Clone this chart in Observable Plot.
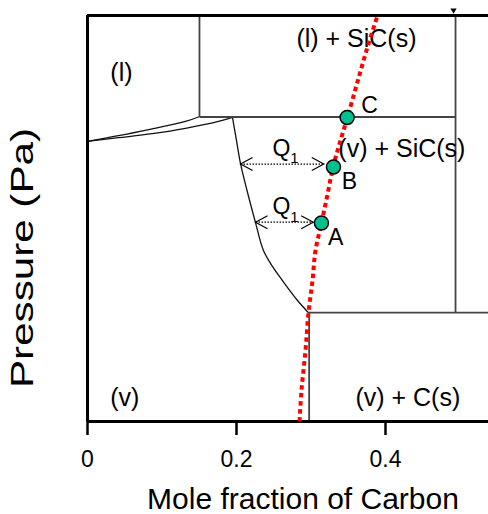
<!DOCTYPE html>
<html><head><meta charset="utf-8">
<script src="https://cdn.jsdelivr.net/npm/d3@7"></script>
<script src="https://cdn.jsdelivr.net/npm/@observablehq/plot@0.6"></script>
<style>html,body{margin:0;padding:0;background:#fff}</style>
</head><body><div id="chart"></div>
<script>
// x: mole fraction of carbon; y: relative pressure (arbitrary units, 0 = bottom, 100 = top)
const xTicks = [0, 0.2, 0.4];
const boundaryLiquidUpper = [[0,69.0],[0.0416,70.4],[0.0868,72.1],[0.1315,73.9],[0.149,75.0]];
const boundaryLiquidLower = [[0,69.0],[0.0416,69.9],[0.0868,70.9],[0.1315,72.2],[0.1758,73.9],[0.1946,74.9]];
const boundaryVapor = [[0.1946,74.9],[0.2,69.2],[0.2054,63.5],[0.2148,56.4],[0.2255,49.0],[0.2362,42.1],[0.2483,38.2],[0.2617,34.7],[0.2819,29.8],[0.2966,26.8]];
const boundaryStraight = [
  [0.1503,75.0,0.1503,100],
  [0.1503,75.0,0.494,75.0],
  [0.494,26.8,0.494,100],
  [0.2966,26.8,0.54,26.8],
  [0.2975,0,0.2975,26.8]
];
const processPath = [[0.2846,0],[0.2872,7.6],[0.2926,17.5],[0.2966,26.8],[0.302,34.7],[0.306,42.1],[0.3141,48.9],[0.3221,55.9],[0.3302,63.1],[0.3396,69.2],[0.349,75.0],[0.3611,82.8],[0.3745,91.4],[0.3893,100]];
const pointNames = ["A","B","C"];
const pointX = [0.314, 0.3302, 0.3485];
const pointY = [48.9, 62.7, 74.9];
const pointLabelX = [0.333, 0.3517, 0.3785];
const pointLabelY = [45.4, 59.0, 77.7];
const q1Arrows = [[0.2054,0.3172,63.4],[0.2255,0.3030,49.1]];
const q1LabelX = [0.2604, 0.2604];
const q1LabelY = [67.2, 52.9];
const regionNames = ["(l)", "(l) + SiC(s)", "(v) + SiC(s)", "(v)", "(v) + C(s)"];
const regionX = [0.0456, 0.361, 0.422, 0.050, 0.430];
const regionY = [85.9, 94.3, 67.0, 5.67, 5.67];

const points = pointNames.map((n,i)=>({name:n, x:pointX[i], y:pointY[i], lx:pointLabelX[i], ly:pointLabelY[i]}));
const regions = regionNames.map((n,i)=>({name:n, x:regionX[i], y:regionY[i]}));
const heads = q1Arrows.flatMap(([a,b,y])=>[{x:a,y,rot:180},{x:b,y,rot:0}]);
const chevron = {draw(ctx, size){ const r = Math.sqrt(size/Math.PI); ctx.moveTo(-1.85*r,-r); ctx.lineTo(0,0); ctx.lineTo(-1.85*r,r); }};
const font = "'Liberation Sans', Arial, sans-serif";

const chart = Plot.plot({
  width: 488, height: 514,
  marginTop: 15, marginBottom: 93, marginLeft: 87, marginRight: 0,
  x: {domain: [0, 401/745]},
  y: {domain: [0, 100], axis: null},
  style: {fontFamily: font, background: "#fff", overflow: "visible", color: "#000"},
  marks: [
    Plot.line(boundaryLiquidUpper, {x: d=>d[0], y: d=>d[1], stroke: "#111", strokeWidth: 1.3, curve: "catmull-rom"}),
    Plot.line(boundaryLiquidLower, {x: d=>d[0], y: d=>d[1], stroke: "#111", strokeWidth: 1.3, curve: "catmull-rom"}),
    Plot.line(boundaryVapor, {x: d=>d[0], y: d=>d[1], stroke: "#111", strokeWidth: 1.3, curve: "catmull-rom"}),
    Plot.link(boundaryStraight, {x1: d=>d[0], y1: d=>d[1], x2: d=>d[2], y2: d=>d[3], stroke: "#444", strokeWidth: 1.8}),
    Plot.ruleY([0, 100], {stroke: "#000", strokeWidth: 3}),
    Plot.ruleX([0], {stroke: "#000", strokeWidth: 3}),
    Plot.dot([[0.4913, 101.3]], {x: d=>d[0], y: d=>d[1], symbol: "triangle", r: 2.3, fill: "#000", rotate: 180}),
    Plot.axisX({ticks: xTicks, tickSize: 14, tickPadding: 15, fontSize: 23, strokeWidth: 2.5, label: null, tickFormat: d => String(d)}),
    Plot.text(["Mole fraction of Carbon"], {frameAnchor: "bottom", dx: 15, dy: 78, lineAnchor: "middle", fontSize: 30}),
    Plot.text(["Pressure (Pa)"], {frameAnchor: "left", fontSize: 32}),
    Plot.text(regions, {x: "x", y: "y", text: "name", fontSize: 25, lineAnchor: "middle"}),
    Plot.link(q1Arrows, {x1: d=>d[0], x2: d=>d[1], y1: d=>d[2], y2: d=>d[2], stroke: "#000", strokeWidth: 1.2, strokeDasharray: "1.5,1.5"}),
    Plot.dot(heads, {x: "x", y: "y", rotate: "rot", symbol: chevron, r: 6.5, fill: "none", stroke: "#000", strokeWidth: 1.2}),
    Plot.text(q1LabelX.map((x,i)=>({x, y:q1LabelY[i]})), {x: "x", y: "y", text: () => "Q", fontSize: 23, lineAnchor: "middle"}),
    Plot.text(q1LabelX.map((x,i)=>({x, y:q1LabelY[i]})), {x: "x", y: "y", text: () => "1", fontSize: 15, lineAnchor: "middle", dx: 13, dy: 10}),
    Plot.line(processPath, {x: d=>d[0], y: d=>d[1], stroke: "#ff0000", strokeWidth: 4, strokeDasharray: "4.5,3.5", strokeLinecap: "butt", curve: "catmull-rom"}),
    Plot.dot(points, {x: "x", y: "y", r: 7, fill: "#00bf8f", stroke: "#000", strokeWidth: 1.5}),
    Plot.text(points, {x: "lx", y: "ly", text: "name", fontSize: 23, lineAnchor: "middle"})
  ]
});
const yl = Array.from(chart.querySelectorAll("text")).find(e => e.textContent === "Pressure (Pa)");
if (yl) {
  if (yl.parentNode && yl.parentNode.removeAttribute) yl.parentNode.removeAttribute("transform");
  ["x","y","dx"].forEach(a => yl.removeAttribute(a));
  yl.setAttribute("dy", "0.35em");
  yl.setAttribute("text-anchor", "start");
  yl.setAttribute("transform", "translate(22,388) rotate(-90)");
  yl.setAttribute("textLength", 260);
  yl.setAttribute("lengthAdjust", "spacingAndGlyphs");
}
document.getElementById("chart").appendChild(chart);
</script>
</body></html>
